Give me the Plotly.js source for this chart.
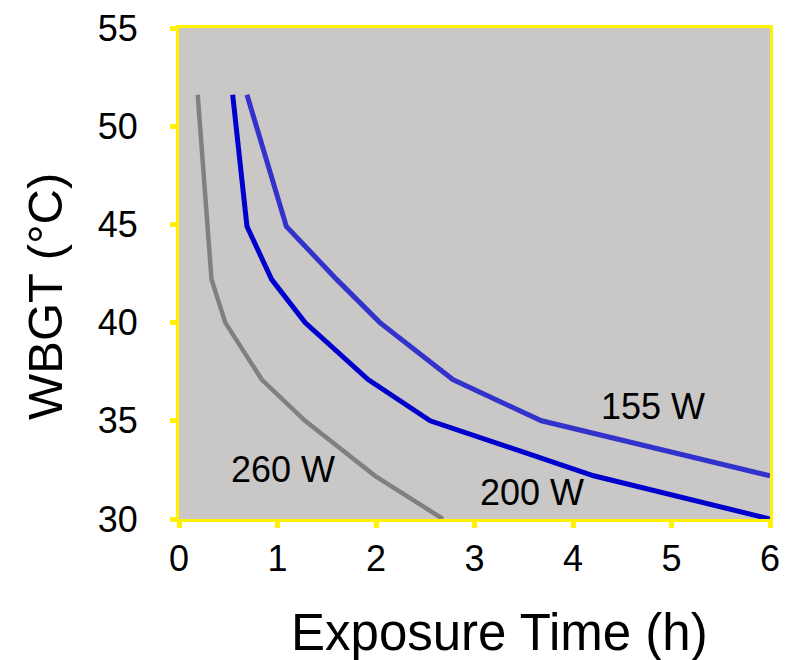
<!DOCTYPE html>
<html>
<head>
<meta charset="utf-8">
<script src="https://cdn.plot.ly/plotly-3.0.1.min.js"></script>
<style>html,body{margin:0;padding:0;background:#fff;}#chart{width:793px;height:660px;}</style>
</head>
<body>
<div id="chart"></div>
<script>
// Data
const time260 = [0.19, 0.33, 0.47, 0.84, 1.28, 1.99, 2.68];
const wbgt260 = [51.6, 42.2, 40.0, 37.1, 35.0, 32.2, 30.0];
const time200 = [0.545, 0.69, 0.94, 1.28, 1.92, 2.55, 4.21, 6.0];
const wbgt200 = [51.6, 44.9, 42.2, 40.0, 37.1, 35.0, 32.2, 30.0];
const time155 = [0.69, 1.09, 1.6, 2.04, 2.78, 3.68, 6.0];
const wbgt155 = [51.6, 44.9, 42.2, 40.0, 37.1, 35.0, 32.2];
const seriesLabels = ["260 W", "200 W", "155 W"];
const labelX = [1.06, 3.58, 4.81];
const labelY = [32.52, 31.35, 35.75];
const xTicks = [0, 1, 2, 3, 4, 5, 6];
const yTicks = [30, 35, 40, 45, 50, 55];
const xTitle = "Exposure Time (h)";
const yTitle = "WBGT (°C)";

const FONT = "Liberation Sans, Arial, sans-serif";
const YEL = "#FFF200";

const traces = [
  {x: time260, y: wbgt260, mode: "lines", line: {color: "#808080", width: 4.5}, name: seriesLabels[0]},
  {x: time200, y: wbgt200, mode: "lines", line: {color: "#0000CC", width: 5}, name: seriesLabels[1]},
  {x: time155, y: wbgt155, mode: "lines", line: {color: "#3333CC", width: 5}, name: seriesLabels[2]}
];

const annotations = seriesLabels.map((t, i) => ({
  x: labelX[i], y: labelY[i], xref: "x", yref: "y", text: t, showarrow: false,
  font: {family: FONT, size: 36, color: "#000"}, xanchor: "center", yanchor: "middle"
}));
annotations.push({
  xref: "paper", yref: "paper", x: (499 - 179) / 591, y: -(632 - 519) / 491,
  text: xTitle, showarrow: false, xanchor: "center", yanchor: "middle",
  font: {family: FONT, size: 51, color: "#000"}
});
annotations.push({
  xref: "paper", yref: "paper", x: -(179 - 45) / 591, y: (519 - 297) / 491,
  text: yTitle, showarrow: false, textangle: -90, xanchor: "center", yanchor: "middle",
  font: {family: FONT, size: 49, color: "#000"}
});

const layout = {
  width: 793, height: 660,
  margin: {l: 179, r: 23, t: 28, b: 141, pad: 0},
  paper_bgcolor: "#ffffff",
  plot_bgcolor: "#C9C8C7",
  showlegend: false,
  font: {family: FONT, color: "#000"},
  xaxis: {
    range: [0, 6], tickvals: xTicks, ticktext: xTicks.map(String),
    showgrid: false, zeroline: false,
    showline: true, mirror: true, linecolor: YEL, linewidth: 3,
    ticks: "outside", ticklen: 6, tickwidth: 5, tickcolor: YEL,
    ticklabelstandoff: 0,
    tickfont: {family: FONT, size: 36, color: "#000"}
  },
  yaxis: {
    range: [30, 55], tickvals: yTicks, ticktext: yTicks.map(String),
    showgrid: false, zeroline: false,
    showline: true, mirror: true, linecolor: YEL, linewidth: 3,
    ticks: "outside", ticklen: 6, tickwidth: 5, tickcolor: YEL,
    ticklabelstandoff: 25,
    tickfont: {family: FONT, size: 36, color: "#000"}
  },
  annotations: annotations
};

Plotly.newPlot("chart", traces, layout, {displayModeBar: false, staticPlot: true});
</script>
</body>
</html>
